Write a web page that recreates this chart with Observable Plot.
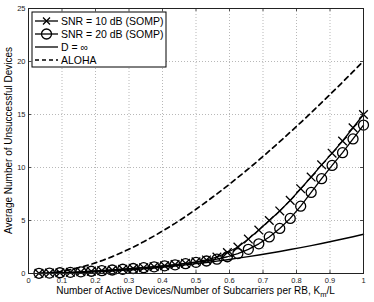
<!DOCTYPE html>
<html><head><meta charset="utf-8">
<script src="https://cdn.jsdelivr.net/npm/d3@7"></script>
<script src="https://cdn.jsdelivr.net/npm/@observablehq/plot@0.6"></script>
<style>
body{margin:0;background:#fff;}
#wrap{width:374px;height:302px;}
</style>
</head><body><div id="wrap"></div>
<script>
const L = 32;
const kValues = [1,2,3,4,5,6,7,8,9,10,11,12,13,14,15,16,17,18,19,20,21,22,23,24,25,26,27,28,29,30,31,32];
const snr10 = [0.02,0.04,0.07,0.11,0.16,0.21,0.27,0.33,0.40,0.47,0.55,0.64,0.73,0.84,0.96,1.10,1.28,1.55,1.98,2.50,3.25,4.10,5.00,5.90,6.90,8.00,9.10,10.25,11.35,12.50,13.75,15.00];
const snr20 = [0.02,0.04,0.07,0.11,0.16,0.21,0.27,0.33,0.40,0.47,0.55,0.63,0.72,0.82,0.93,1.05,1.18,1.35,1.58,1.88,2.28,2.80,3.45,4.25,5.20,6.35,7.65,8.95,10.20,11.40,12.70,14.00];
const dInf = [0.00,0.01,0.03,0.06,0.09,0.13,0.18,0.23,0.29,0.36,0.44,0.52,0.61,0.71,0.81,0.93,1.04,1.17,1.30,1.45,1.59,1.75,1.91,2.08,2.26,2.44,2.63,2.83,3.04,3.25,3.47,3.70];
const aloha = [0.00,0.06,0.18,0.36,0.60,0.88,1.21,1.59,2.02,2.49,2.99,3.54,4.12,4.73,5.38,6.06,6.77,7.51,8.27,9.06,9.87,10.70,11.56,12.44,13.33,14.24,15.17,16.12,17.08,18.05,19.04,20.04];
const xTicks = [0,0.1,0.2,0.3,0.4,0.5,0.6,0.7,0.8,0.9,1];
const yTicks = [0,5,10,15,20,25];
const xTickLabels = ["0","0.1","0.2","0.3","0.4","0.5","0.6","0.7","0.8","0.9","1"];
const yTickLabels = ["0","5","10","15","20","25"];
const legendLabels = ["SNR = 10 dB (SOMP)","SNR = 20 dB (SOMP)","D = \u221E","ALOHA"];

const rows = kValues.map((k,i)=>({x:k/L, s10:snr10[i], s20:snr20[i], dinf:dInf[i], aloha:aloha[i]}));
const W=374,H=302,mL=28,mR=11,mT=8,mB=29;
const pw=W-mL-mR, ph=H-mT-mB;
const font="Liberation Sans, Arial, Helvetica, sans-serif";
const innerX = xTicks.slice(1,-1), innerY = yTicks.slice(1,-1);

const chart = Plot.plot({
  width:W, height:H, marginLeft:mL, marginRight:mR, marginTop:mT, marginBottom:mB,
  style:{fontFamily:font, background:"#fff", color:"#000"},
  x:{domain:[0,1]}, y:{domain:[0,25]},
  marks:[
    Plot.ruleX(innerX,{x:d=>d, stroke:"#999", strokeWidth:0.7, strokeDasharray:"1,2"}),
    Plot.ruleY(innerY,{y:d=>d, stroke:"#999", strokeWidth:0.7, strokeDasharray:"1,2"}),
    Plot.ruleX(xTicks,{x:d=>d, stroke:"#222", strokeWidth:0.8, insetTop:ph-3}),
    Plot.ruleX(xTicks,{x:d=>d, stroke:"#222", strokeWidth:0.8, insetBottom:ph-3}),
    Plot.ruleY(yTicks,{y:d=>d, stroke:"#222", strokeWidth:0.8, insetRight:pw-3}),
    Plot.ruleY(yTicks,{y:d=>d, stroke:"#222", strokeWidth:0.8, insetLeft:pw-3}),
    Plot.axisX({ticks:xTicks, tickSize:0, tickPadding:4, fontSize:7.5, tickFormat:(d)=>xTickLabels[xTicks.indexOf(d)], label:null, fill:"#222"}),
    Plot.axisY({ticks:yTicks, tickSize:0, tickPadding:3, fontSize:7.5, tickFormat:(d)=>yTickLabels[yTicks.indexOf(d)], label:null, fill:"#222"}),
    Plot.line(rows,{x:"x", y:"aloha", stroke:"#000", strokeWidth:1.7, strokeDasharray:"5,4"}),
    Plot.line(rows,{x:"x", y:"dinf", stroke:"#000", strokeWidth:1.4}),
    Plot.line(rows,{x:"x", y:"s10", stroke:"#000", strokeWidth:1.3}),
    Plot.dot(rows,{x:"x", y:"s10", symbol:"times", r:4, stroke:"#000", strokeWidth:1.3}),
    Plot.line(rows,{x:"x", y:"s20", stroke:"#000", strokeWidth:1.3}),
    Plot.dot(rows,{x:"x", y:"s20", symbol:"circle", r:5, stroke:"#000", strokeWidth:1.3, fill:"none"}),
    Plot.frame({stroke:"#222", strokeWidth:1})
  ]
});
document.getElementById("wrap").appendChild(chart);

const svg = d3.select(chart);
// axis titles
const xl = svg.append("text").attr("x", mL+pw/2).attr("y", 294).attr("text-anchor","middle")
  .attr("font-family",font).attr("font-size",10).attr("fill","#000");
xl.append("tspan").text("Number of Active Devices/Number of Subcarriers per RB, K");
xl.append("tspan").attr("font-size",7.5).attr("dy",2.5).text("m");
xl.append("tspan").attr("dy",-2.5).text("/L");
svg.append("text").attr("transform",`translate(12,${mT+ph/2}) rotate(-90)`).attr("text-anchor","middle")
  .attr("font-family",font).attr("font-size",10).attr("fill","#000").text("Average Number of Unsuccessful Devices");

// legend
const lg = svg.append("g").attr("text-anchor","start");
lg.append("rect").attr("x",32).attr("y",12).attr("width",134).attr("height",55).attr("fill","#fff").attr("stroke","#000").attr("stroke-width",1);
const ly = [21,34,47,60];
legendLabels.forEach((t,i)=>{
  const y=ly[i];
  const ln = lg.append("line").attr("x1",35).attr("x2",58).attr("y1",y).attr("y2",y).attr("stroke","#000")
    .attr("stroke-width", i===3?1.7:1.3);
  if(i===3) ln.attr("stroke-dasharray","4,3");
  if(i===0){
    lg.append("path").attr("d",`M${46.5-3.5},${y-3.5}L${46.5+3.5},${y+3.5}M${46.5-3.5},${y+3.5}L${46.5+3.5},${y-3.5}`).attr("stroke","#000").attr("stroke-width",1.3);
  }
  if(i===1){
    lg.append("circle").attr("cx",46.5).attr("cy",y).attr("r",5).attr("fill","none").attr("stroke","#000").attr("stroke-width",1.3);
  }
  lg.append("text").attr("x",61).attr("y",y+3.7).attr("text-anchor","start").attr("font-family",font).attr("font-size",10.5).attr("fill","#000").text(t);
});
</script>
</body></html>
